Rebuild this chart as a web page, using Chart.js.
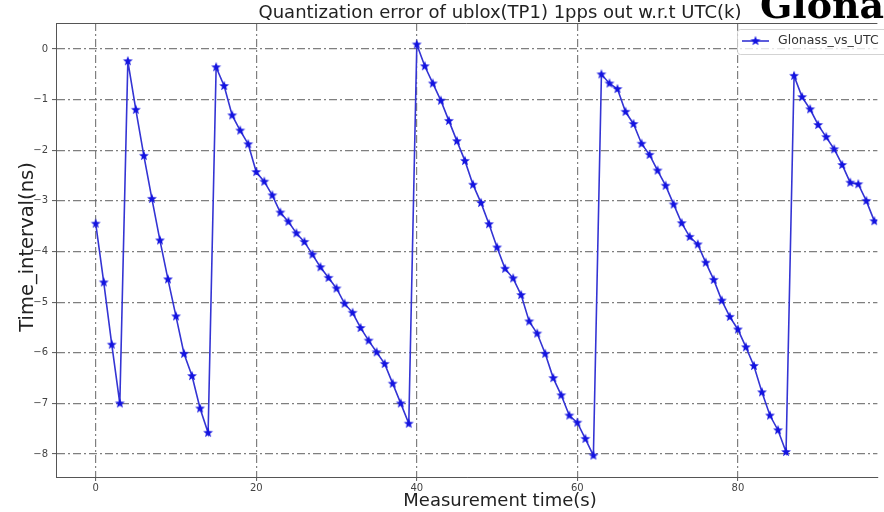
<!DOCTYPE html>
<html>
<head>
<meta charset="utf-8">
<script src="https://cdn.jsdelivr.net/npm/chart.js@4/dist/chart.umd.min.js"></script>
<style>
  html, body { margin: 0; padding: 0; background: #fff; overflow: hidden; }
  #wrap { position: relative; width: 884px; height: 512px; }
</style>
</head>
<body>
<div id="wrap"><canvas id="qerrChart"></canvas></div>
<script>
// measurement time (s)
const seconds = [
  0, 1, 2, 3, 4, 5, 6, 7, 8, 9, 10, 11, 12, 13, 14, 15, 16, 17, 18, 19,
  20, 21, 22, 23, 24, 25, 26, 27, 28, 29, 30, 31, 32, 33, 34, 35, 36, 37, 38, 39,
  40, 41, 42, 43, 44, 45, 46, 47, 48, 49, 50, 51, 52, 53, 54, 55, 56, 57, 58, 59,
  60, 61, 62, 63, 64, 65, 66, 67, 68, 69, 70, 71, 72, 73, 74, 75, 76, 77, 78, 79,
  80, 81, 82, 83, 84, 85, 86, 87, 88, 89, 90, 91, 92, 93, 94, 95, 96, 97
];
// Glonass vs UTC(k) time interval (ns)
const glonassVsUtc = [
  -3.45, -4.61, -5.84, -7.00, -0.24, -1.20, -2.11, -2.96, -3.78, -4.55,
  -5.28, -6.02, -6.46, -7.10, -7.58, -0.36, -0.73, -1.31, -1.61, -1.88,
  -2.43, -2.62, -2.89, -3.23, -3.41, -3.64, -3.81, -4.06, -4.31, -4.52,
  -4.73, -5.03, -5.21, -5.51, -5.76, -5.99, -6.22, -6.61, -7.00, -7.40,
   0.09, -0.34, -0.68, -1.02, -1.42, -1.82, -2.21, -2.68, -3.04, -3.46,
  -3.92, -4.34, -4.53, -4.86, -5.38, -5.62, -6.02, -6.50, -6.84, -7.24,
  -7.38, -7.70, -8.03, -0.50, -0.68, -0.79, -1.24, -1.48, -1.87, -2.09,
  -2.40, -2.70, -3.07, -3.44, -3.71, -3.86, -4.22, -4.56, -4.97, -5.29,
  -5.54, -5.89, -6.26, -6.78, -7.24, -7.53, -7.96, -0.53, -0.95, -1.19,
  -1.50, -1.74, -1.98, -2.29, -2.64, -2.67, -3.00, -3.40
];
const xTicks = [0, 20, 40, 60, 80];
const yTicks = [0, -1, -2, -3, -4, -5, -6, -7, -8];

const seriesName = 'Glonass_vs_UTC';
const titleText = 'Quantization error of ublox(TP1) 1pps out w.r.t UTC(k)';
const xTitle = 'Measurement time(s)';
const yTitle = 'Time_interval(ns)';
const bannerText = 'Glonass';

const lineBlue = 'rgb(52,52,212)';
const starBlue = '#1414e0';
const gridGrey = 'rgba(105,105,105,0.85)';

// filled five-point star used as the marker
function makeStar(r) {
  const size = Math.ceil(r * 2) + 1;
  const c = document.createElement('canvas');
  c.width = size; c.height = size;
  const g = c.getContext('2d');
  g.translate(size / 2, size / 2);
  g.beginPath();
  for (let i = 0; i < 10; i++) {
    const rad = i % 2 === 0 ? r : r * 0.42;
    const a = -Math.PI / 2 + i * Math.PI / 5;
    g.lineTo(rad * Math.cos(a), rad * Math.sin(a));
  }
  g.closePath();
  g.fillStyle = starBlue;
  g.fill();
  return c;
}
const star = makeStar(5.2);

const minusFmt = v => (v < 0 ? '\u2212' + Math.abs(v) : String(v));

// titles, frame, legend box and banner text
const decorations = {
  id: 'decorations',
  afterDraw(chart) {
    const { ctx, chartArea: a } = chart;
    ctx.save();
    // top spine
    ctx.strokeStyle = '#555';
    ctx.lineWidth = 1;
    ctx.beginPath();
    ctx.moveTo(a.left, a.top + 0.5);
    ctx.lineTo(a.right, a.top + 0.5);
    ctx.stroke();

    ctx.fillStyle = '#222';
    ctx.textAlign = 'center';
    ctx.textBaseline = 'alphabetic';
    ctx.font = '18px "DejaVu Sans"';
    ctx.fillText(titleText, 500, 18);

    ctx.font = '18px "DejaVu Sans"';
    ctx.fillText(xTitle, 500, 506);

    ctx.save();
    ctx.translate(33, 247);
    ctx.rotate(-Math.PI / 2);
    ctx.font = '19.5px "DejaVu Sans"';
    ctx.fillText(yTitle, 0, 0);
    ctx.restore();

    // legend, semi-transparent like the default frame
    const lx = 737, ly = 29, lw = 200, lh = 25;
    ctx.fillStyle = 'rgba(255,255,255,0.8)';
    ctx.strokeStyle = 'rgba(200,200,200,0.8)';
    ctx.beginPath();
    ctx.roundRect(lx + 0.5, ly + 0.5, lw, lh, 3);
    ctx.fill();
    ctx.stroke();
    ctx.strokeStyle = lineBlue;
    ctx.lineWidth = 1.6;
    ctx.beginPath();
    ctx.moveTo(742, 41);
    ctx.lineTo(769, 41);
    ctx.stroke();
    ctx.drawImage(star, 755.5 - star.width / 2, 41 - star.height / 2);
    ctx.fillStyle = '#333';
    ctx.textAlign = 'left';
    ctx.textBaseline = 'middle';
    ctx.font = '12.5px "DejaVu Sans"';
    ctx.fillText(seriesName, 778, 41);

    // large banner word at the top right, only its lower part shows
    ctx.fillStyle = '#000';
    ctx.textBaseline = 'alphabetic';
    ctx.font = 'bold 100px "DejaVu Serif"';
    const w5 = ctx.measureText(bannerText.slice(0, 5)).width;
    ctx.font = 'bold ' + (100 * 124 / w5).toFixed(1) + 'px "DejaVu Serif"';
    ctx.fillText(bannerText, 760, 18);
    ctx.restore();
  }
};

const tickFont = { family: 'DejaVu Sans', size: 10 };

new Chart(document.getElementById('qerrChart'), {
  type: 'line',
  data: {
    datasets: [{
      label: seriesName,
      data: seconds.map((t, i) => ({ x: t, y: glonassVsUtc[i] })),
      borderColor: lineBlue,
      borderWidth: 1.6,
      pointStyle: star,
      pointRadius: 5,
      pointHoverRadius: 5,
      tension: 0,
      fill: false
    }]
  },
  options: {
    responsive: true,
    maintainAspectRatio: false,
    animation: false,
    layout: { padding: { top: 23, right: 0, bottom: 0, left: 0 } },
    plugins: {
      legend: { display: false },
      title: { display: false },
      tooltip: { enabled: false }
    },
    scales: {
      x: {
        type: 'linear',
        min: -4.95,
        max: 97.38,
        afterBuildTicks: s => { s.ticks = xTicks.map(v => ({ value: v })); },
        afterFit: s => { s.height = 35; },
        ticks: { font: tickFont, color: '#444', padding: 1, maxRotation: 0, callback: minusFmt },
        grid: { color: gridGrey, lineWidth: 1.2, tickLength: 4, tickColor: '#555', tickWidth: 1 },
        border: { display: true, color: '#555', width: 1, dash: [8, 3, 2, 3] }
      },
      y: {
        min: -8.454,
        max: 0.514,
        afterBuildTicks: s => { s.ticks = yTicks.map(v => ({ value: v })); },
        afterFit: s => { s.width = 56; },
        ticks: { font: tickFont, color: '#444', padding: 4, callback: minusFmt },
        grid: { color: gridGrey, lineWidth: 1.2, tickLength: 4, tickColor: '#555', tickWidth: 1 },
        border: { display: true, color: '#555', width: 1, dash: [8, 3, 2, 3] }
      }
    }
  },
  plugins: [decorations]
});
</script>
</body>
</html>
